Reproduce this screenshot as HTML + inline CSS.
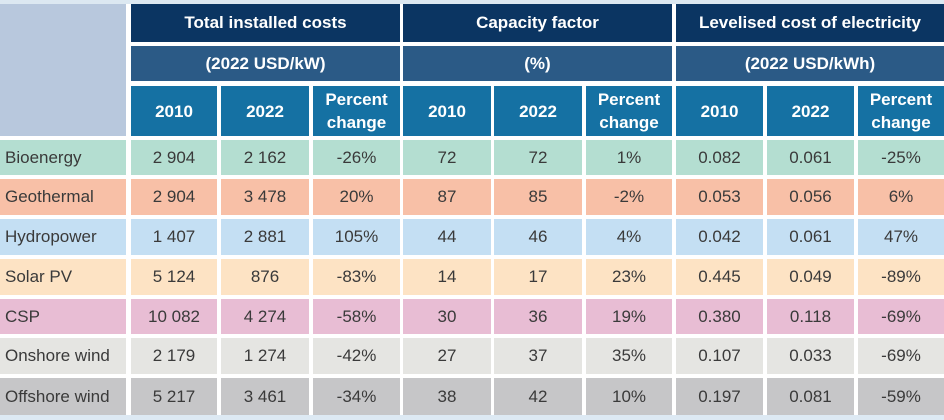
<!DOCTYPE html>
<html>
<head>
<meta charset="utf-8">
<style>
  html, body { margin:0; padding:0; }
  body { width:944px; height:420px; position:relative; background:#ffffff; overflow:hidden;
         font-family:"Liberation Sans", sans-serif; }
  .c { position:absolute; box-sizing:border-box; display:flex; align-items:center; justify-content:center;
       text-align:center; font-size:17px; color:#3a3a3a; }
  .h1 { background:#0b3562; color:#fff; font-weight:bold; font-size:17px; }
  .h2 { background:#2b5a86; color:#fff; font-weight:bold; font-size:17px; }
  .h3 { background:#1571a3; color:#fff; font-weight:bold; font-size:17px; line-height:23px; }
  .lab { justify-content:flex-start; padding-left:5px; }
</style>
</head>
<body>
<div style="position:absolute;left:0;top:0;width:944px;height:4px;background:#dce8f1;"></div>
<div style="position:absolute;left:0;top:415px;width:944px;height:5px;background:#dde9f3;"></div>

<!-- top-left -->
<div class="c" style="left:0;top:4px;width:126px;height:132px;background:#b8c8dd;"></div>

<!-- header row 1 -->
<div class="c h1" style="left:131px;top:4px;width:269px;height:38px;">Total installed costs</div>
<div class="c h1" style="left:403px;top:4px;width:269px;height:38px;">Capacity factor</div>
<div class="c h1" style="left:676px;top:4px;width:268px;height:38px;">Levelised cost of electricity</div>

<!-- header row 2 -->
<div class="c h2" style="left:131px;top:46px;width:269px;height:35px;">(2022 USD/kW)</div>
<div class="c h2" style="left:403px;top:46px;width:269px;height:35px;">(%)</div>
<div class="c h2" style="left:676px;top:46px;width:268px;height:35px;">(2022 USD/kWh)</div>

<!-- header row 3 -->
<div class="c h3" style="left:131px;top:86px;width:86px;height:50px;">2010</div>
<div class="c h3" style="left:221px;top:86px;width:88px;height:50px;">2022</div>
<div class="c h3" style="left:313px;top:86px;width:87px;height:50px;">Percent<br>change</div>
<div class="c h3" style="left:403px;top:86px;width:88px;height:50px;">2010</div>
<div class="c h3" style="left:494px;top:86px;width:88px;height:50px;">2022</div>
<div class="c h3" style="left:586px;top:86px;width:86px;height:50px;">Percent<br>change</div>
<div class="c h3" style="left:676px;top:86px;width:87px;height:50px;">2010</div>
<div class="c h3" style="left:767px;top:86px;width:87px;height:50px;">2022</div>
<div class="c h3" style="left:858px;top:86px;width:86px;height:50px;">Percent<br>change</div>

<!-- data rows -->
<!-- Bioenergy -->
<div class="c lab" style="left:0;top:140px;width:126px;height:35px;background:#b4ded1;">Bioenergy</div>
<div class="c" style="left:131px;top:140px;width:86px;height:35px;background:#b4ded1;">2 904</div>
<div class="c" style="left:221px;top:140px;width:88px;height:35px;background:#b4ded1;">2 162</div>
<div class="c" style="left:313px;top:140px;width:87px;height:35px;background:#b4ded1;">-26%</div>
<div class="c" style="left:403px;top:140px;width:88px;height:35px;background:#b4ded1;">72</div>
<div class="c" style="left:494px;top:140px;width:88px;height:35px;background:#b4ded1;">72</div>
<div class="c" style="left:586px;top:140px;width:86px;height:35px;background:#b4ded1;">1%</div>
<div class="c" style="left:676px;top:140px;width:87px;height:35px;background:#b4ded1;">0.082</div>
<div class="c" style="left:767px;top:140px;width:87px;height:35px;background:#b4ded1;">0.061</div>
<div class="c" style="left:858px;top:140px;width:86px;height:35px;background:#b4ded1;">-25%</div>

<!-- Geothermal -->
<div class="c lab" style="left:0;top:179px;width:126px;height:36px;background:#f8c0a7;">Geothermal</div>
<div class="c" style="left:131px;top:179px;width:86px;height:36px;background:#f8c0a7;">2 904</div>
<div class="c" style="left:221px;top:179px;width:88px;height:36px;background:#f8c0a7;">3 478</div>
<div class="c" style="left:313px;top:179px;width:87px;height:36px;background:#f8c0a7;">20%</div>
<div class="c" style="left:403px;top:179px;width:88px;height:36px;background:#f8c0a7;">87</div>
<div class="c" style="left:494px;top:179px;width:88px;height:36px;background:#f8c0a7;">85</div>
<div class="c" style="left:586px;top:179px;width:86px;height:36px;background:#f8c0a7;">-2%</div>
<div class="c" style="left:676px;top:179px;width:87px;height:36px;background:#f8c0a7;">0.053</div>
<div class="c" style="left:767px;top:179px;width:87px;height:36px;background:#f8c0a7;">0.056</div>
<div class="c" style="left:858px;top:179px;width:86px;height:36px;background:#f8c0a7;">6%</div>

<!-- Hydropower -->
<div class="c lab" style="left:0;top:219px;width:126px;height:36px;background:#c4dff3;">Hydropower</div>
<div class="c" style="left:131px;top:219px;width:86px;height:36px;background:#c4dff3;">1 407</div>
<div class="c" style="left:221px;top:219px;width:88px;height:36px;background:#c4dff3;">2 881</div>
<div class="c" style="left:313px;top:219px;width:87px;height:36px;background:#c4dff3;">105%</div>
<div class="c" style="left:403px;top:219px;width:88px;height:36px;background:#c4dff3;">44</div>
<div class="c" style="left:494px;top:219px;width:88px;height:36px;background:#c4dff3;">46</div>
<div class="c" style="left:586px;top:219px;width:86px;height:36px;background:#c4dff3;">4%</div>
<div class="c" style="left:676px;top:219px;width:87px;height:36px;background:#c4dff3;">0.042</div>
<div class="c" style="left:767px;top:219px;width:87px;height:36px;background:#c4dff3;">0.061</div>
<div class="c" style="left:858px;top:219px;width:86px;height:36px;background:#c4dff3;">47%</div>

<!-- Solar PV -->
<div class="c lab" style="left:0;top:259px;width:126px;height:36px;background:#fde3c4;">Solar PV</div>
<div class="c" style="left:131px;top:259px;width:86px;height:36px;background:#fde3c4;">5 124</div>
<div class="c" style="left:221px;top:259px;width:88px;height:36px;background:#fde3c4;">876</div>
<div class="c" style="left:313px;top:259px;width:87px;height:36px;background:#fde3c4;">-83%</div>
<div class="c" style="left:403px;top:259px;width:88px;height:36px;background:#fde3c4;">14</div>
<div class="c" style="left:494px;top:259px;width:88px;height:36px;background:#fde3c4;">17</div>
<div class="c" style="left:586px;top:259px;width:86px;height:36px;background:#fde3c4;">23%</div>
<div class="c" style="left:676px;top:259px;width:87px;height:36px;background:#fde3c4;">0.445</div>
<div class="c" style="left:767px;top:259px;width:87px;height:36px;background:#fde3c4;">0.049</div>
<div class="c" style="left:858px;top:259px;width:86px;height:36px;background:#fde3c4;">-89%</div>

<!-- CSP -->
<div class="c lab" style="left:0;top:299px;width:126px;height:35px;background:#e8bdd4;">CSP</div>
<div class="c" style="left:131px;top:299px;width:86px;height:35px;background:#e8bdd4;">10 082</div>
<div class="c" style="left:221px;top:299px;width:88px;height:35px;background:#e8bdd4;">4 274</div>
<div class="c" style="left:313px;top:299px;width:87px;height:35px;background:#e8bdd4;">-58%</div>
<div class="c" style="left:403px;top:299px;width:88px;height:35px;background:#e8bdd4;">30</div>
<div class="c" style="left:494px;top:299px;width:88px;height:35px;background:#e8bdd4;">36</div>
<div class="c" style="left:586px;top:299px;width:86px;height:35px;background:#e8bdd4;">19%</div>
<div class="c" style="left:676px;top:299px;width:87px;height:35px;background:#e8bdd4;">0.380</div>
<div class="c" style="left:767px;top:299px;width:87px;height:35px;background:#e8bdd4;">0.118</div>
<div class="c" style="left:858px;top:299px;width:86px;height:35px;background:#e8bdd4;">-69%</div>

<!-- Onshore wind -->
<div class="c lab" style="left:0;top:338px;width:126px;height:36px;background:#e5e5e2;">Onshore wind</div>
<div class="c" style="left:131px;top:338px;width:86px;height:36px;background:#e5e5e2;">2 179</div>
<div class="c" style="left:221px;top:338px;width:88px;height:36px;background:#e5e5e2;">1 274</div>
<div class="c" style="left:313px;top:338px;width:87px;height:36px;background:#e5e5e2;">-42%</div>
<div class="c" style="left:403px;top:338px;width:88px;height:36px;background:#e5e5e2;">27</div>
<div class="c" style="left:494px;top:338px;width:88px;height:36px;background:#e5e5e2;">37</div>
<div class="c" style="left:586px;top:338px;width:86px;height:36px;background:#e5e5e2;">35%</div>
<div class="c" style="left:676px;top:338px;width:87px;height:36px;background:#e5e5e2;">0.107</div>
<div class="c" style="left:767px;top:338px;width:87px;height:36px;background:#e5e5e2;">0.033</div>
<div class="c" style="left:858px;top:338px;width:86px;height:36px;background:#e5e5e2;">-69%</div>

<!-- Offshore wind -->
<div class="c lab" style="left:0;top:378px;width:126px;height:37px;background:#c6c6c8;">Offshore wind</div>
<div class="c" style="left:131px;top:378px;width:86px;height:37px;background:#c6c6c8;">5 217</div>
<div class="c" style="left:221px;top:378px;width:88px;height:37px;background:#c6c6c8;">3 461</div>
<div class="c" style="left:313px;top:378px;width:87px;height:37px;background:#c6c6c8;">-34%</div>
<div class="c" style="left:403px;top:378px;width:88px;height:37px;background:#c6c6c8;">38</div>
<div class="c" style="left:494px;top:378px;width:88px;height:37px;background:#c6c6c8;">42</div>
<div class="c" style="left:586px;top:378px;width:86px;height:37px;background:#c6c6c8;">10%</div>
<div class="c" style="left:676px;top:378px;width:87px;height:37px;background:#c6c6c8;">0.197</div>
<div class="c" style="left:767px;top:378px;width:87px;height:37px;background:#c6c6c8;">0.081</div>
<div class="c" style="left:858px;top:378px;width:86px;height:37px;background:#c6c6c8;">-59%</div>
</body>
</html>
